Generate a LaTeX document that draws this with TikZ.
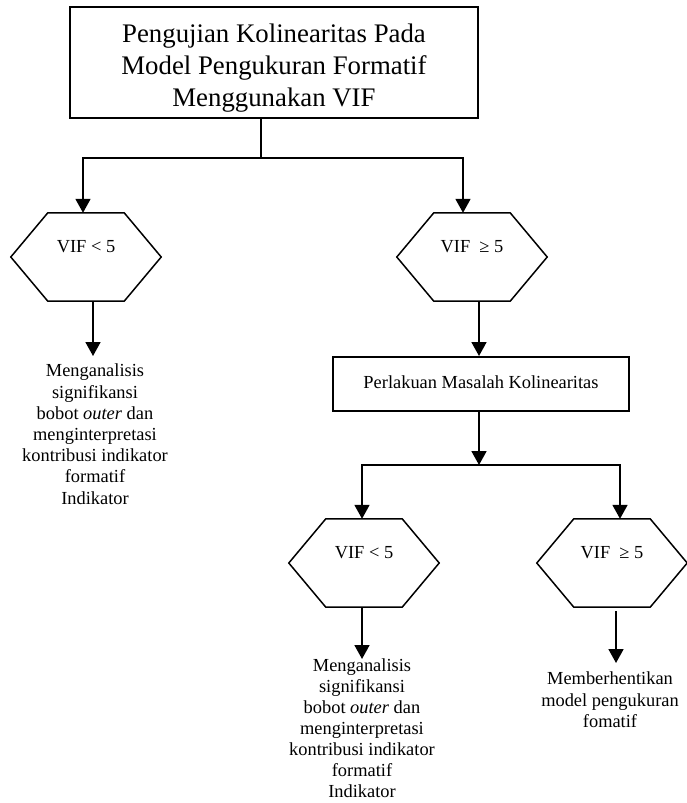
\documentclass[tikz,border=0pt]{standalone}
\usepackage{fontspec}
\setmainfont{Liberation Serif}
\usetikzlibrary{arrows.meta}
\begin{document}
\begin{tikzpicture}[x=1pt,y=-1pt,
  arr/.style={line width=1.8pt, -{Triangle[length=14pt,width=15pt]}},
  link/.style={line width=1.8pt},
  bigbox/.style={draw, line width=2.4pt, minimum width=408pt, minimum height=111pt, inner sep=0},
  bigtext/.style={align=center, inner sep=0, font=\fontsize{26.8}{32}\selectfont},
  stepbox/.style={draw, line width=2pt, minimum width=296pt, minimum height=54pt,
    inner sep=0, font=\fontsize{18.4}{21.2}\selectfont},
  hexa/.style={minimum width=150pt, minimum height=88pt, inner sep=0},
  hexlabel/.style={font=\fontsize{18.4}{21.2}\selectfont},
  note/.style={align=center, anchor=north, inner sep=0, font=\fontsize{18.4}{21.2}\selectfont},
  hexline/.style={line width=1.5pt, line join=miter}
]
\useasboundingbox (0,0) rectangle (686,803);

% main box
\node[bigbox, label={[bigtext, yshift=-6pt]center:Pengujian Kolinearitas Pada\\Model Pengukuran Formatif\\Menggunakan VIF}] (top) at (274,62.5) {};

% decision hexagons
\node[hexa, label={[hexlabel, yshift=10pt]center:VIF < 5}] (h1) at (86,257) {};
\node[hexa, label={[hexlabel, yshift=10pt]center:VIF~ ≥ 5}] (h2) at (472,257) {};
\node[hexa, label={[hexlabel, yshift=10pt]center:VIF < 5}] (h3) at (364,563) {};
\node[hexa, label={[hexlabel, yshift=10pt]center:VIF~ ≥ 5}] (h4) at (612,563) {};
\foreach \h in {h1,h2,h3,h4}
  \draw[hexline] (\h.west) -- ([xshift=37pt]\h.north west) -- ([xshift=-37pt]\h.north east)
    -- (\h.east) -- ([xshift=-37pt]\h.south east) -- ([xshift=37pt]\h.south west) -- cycle;

% treatment box
\node[stepbox] (p) at (481,384) {\raisebox{4pt}{Perlakuan Masalah Kolinearitas}};

% outcome texts
\node[note] (t1) at (95,364) {Menganalisis\\signifikansi\\bobot \textit{outer} dan\\menginterpretasi\\kontribusi indikator\\formatif\\Indikator};
\node[note, font=\fontsize{18.4}{21}\selectfont] (t3) at (362,659) {Menganalisis\\signifikansi\\bobot \textit{outer} dan\\menginterpretasi\\kontribusi indikator\\formatif\\Indikator};
\node[note] (t4) at (610,672) {Memberhentikan\\model pengukuran\\fomatif};

% first split
\coordinate (j0) at (261,158);
\draw[link] (top.south -| j0) -- (j0);
\draw[arr] (j0) -| ([xshift=-3pt]h1.north);
\draw[arr] (j0) -| ([xshift=-9pt]h2.north);

% left branch
\draw[arr, shorten >=8pt] ([xshift=7pt]h1.south) -- ([xshift=7pt]h1.south |- t1.north);

% right branch
\draw[arr] ([xshift=7pt]h2.south) -- ([xshift=7pt]h2.south |- p.north);
\coordinate (j1) at (479,465);
\draw[arr] ([xshift=-2pt]p.south) -- (j1);
\draw[arr] (j1) -| ([xshift=-2pt]h3.north);
\draw[arr] (j1) -| ([xshift=8pt]h4.north);

% second split outcomes
\draw[arr] ([xshift=-2pt]h3.south) -- ([xshift=-2pt]h3.south |- t3.north);
\draw[arr, shorten <=4pt, shorten >=9pt] ([xshift=4pt]h4.south) -- ([xshift=4pt]h4.south |- t4.north);
\end{tikzpicture}
\end{document}
